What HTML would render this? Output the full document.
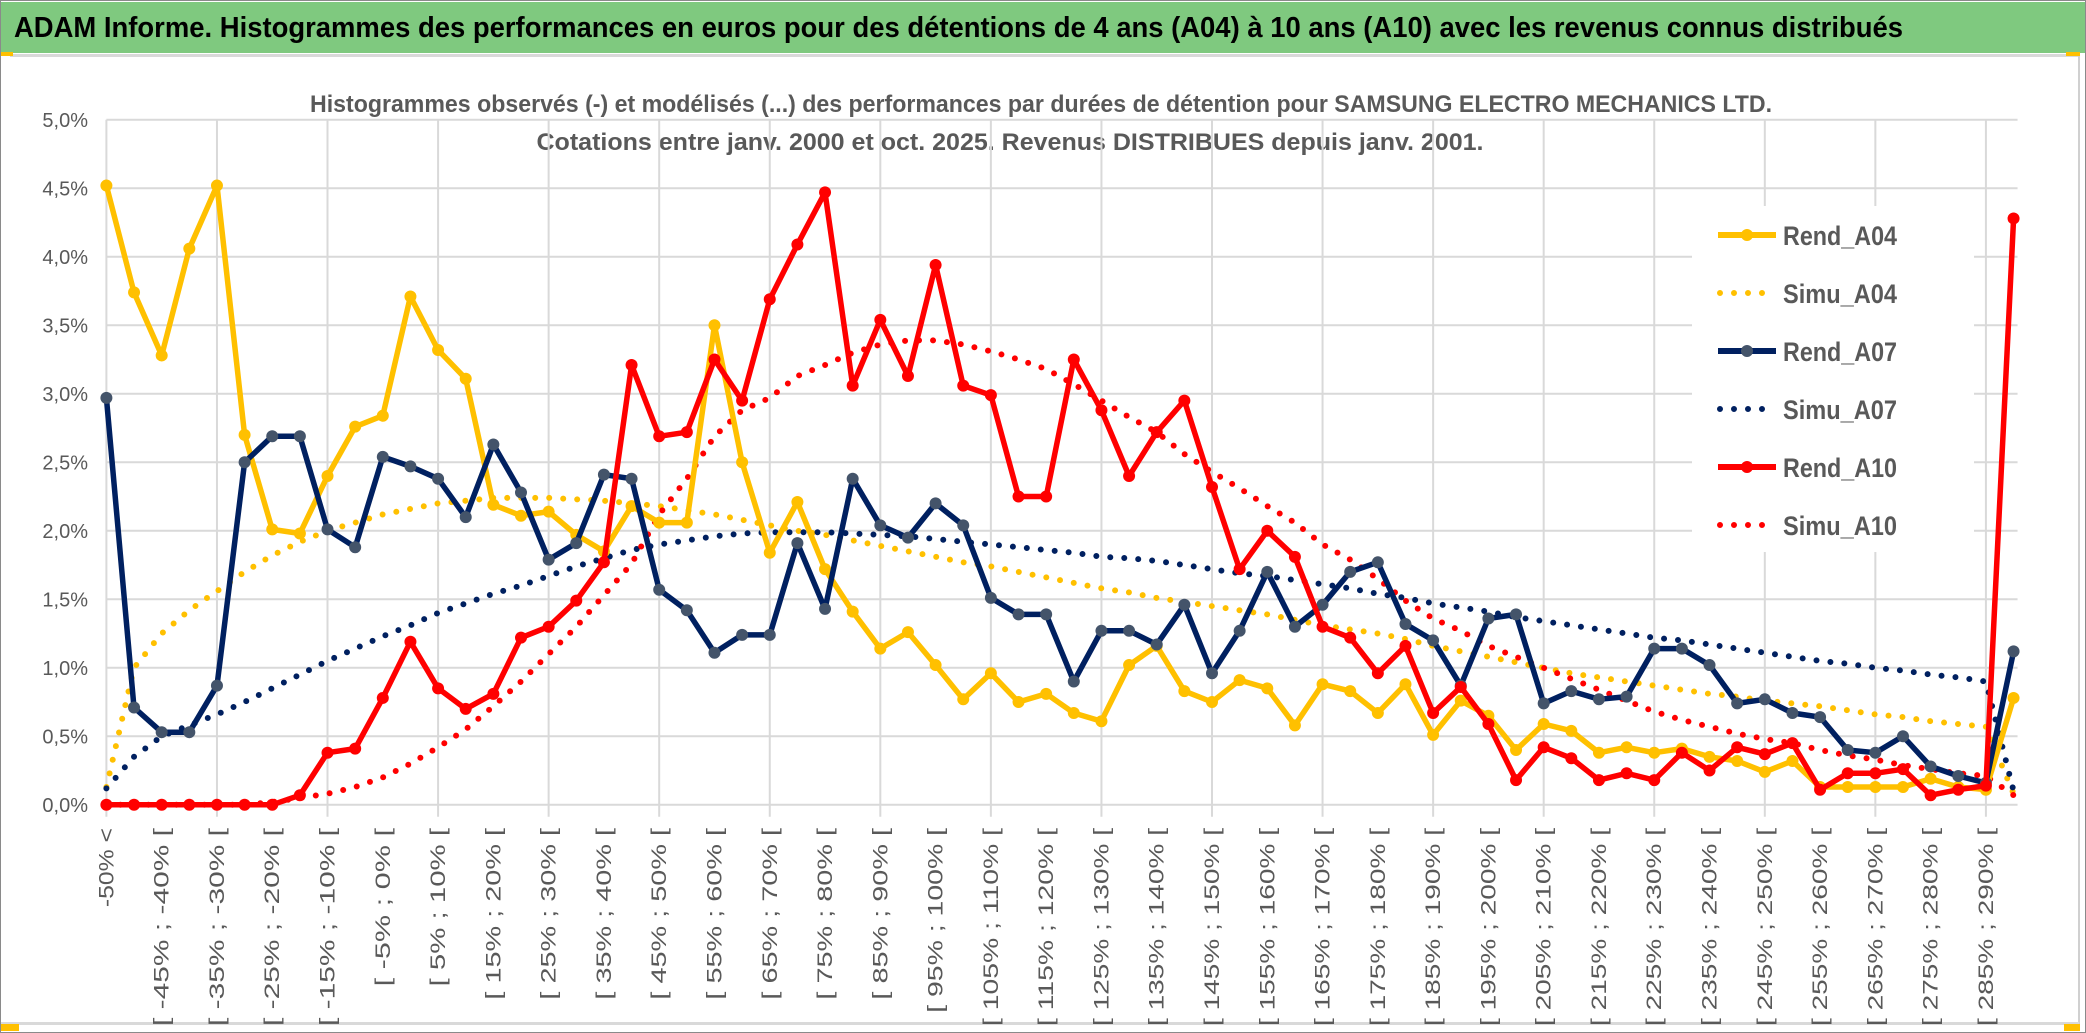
<!DOCTYPE html>
<html><head><meta charset="utf-8">
<style>
html,body{margin:0;padding:0;background:#fff;}
svg{display:block;font-family:"Liberation Sans",sans-serif;}
</style></head>
<body>
<svg id="chart" width="2086" height="1033" viewBox="0 0 2086 1033" xmlns="http://www.w3.org/2000/svg">
<rect x="0" y="0" width="2086" height="1033" fill="#ffffff"/>
<rect x="0.5" y="0.5" width="2085" height="1032" fill="none" stroke="#8a8a8a" stroke-width="1"/>
<rect x="1" y="2" width="2084" height="51" fill="#7fc97f"/>
<text x="14" y="37" font-size="29" font-weight="bold" fill="#000" textLength="1889" lengthAdjust="spacingAndGlyphs">ADAM Informe. Histogrammes des performances en euros pour des détentions de 4 ans (A04) à 10 ans (A10) avec les revenus connus distribués</text>
<rect x="10" y="54" width="2068" height="3" fill="#d9d9d9"/>
<rect x="2078" y="54" width="2" height="972" fill="#d0d0d0"/>
<rect x="1" y="1022" width="2078" height="3" fill="#d9d9d9"/>
<rect x="1" y="52" width="12" height="4" fill="#ffc000"/>
<rect x="2066" y="52" width="14" height="4" fill="#ffc000"/>
<rect x="1" y="1024" width="18" height="7" fill="#ffc000"/>
<rect x="2064" y="1024" width="16" height="7" fill="#ffc000"/>
<text x="1041" y="112" text-anchor="middle" font-size="24" font-weight="bold" fill="#595959" textLength="1462" lengthAdjust="spacingAndGlyphs">Histogrammes observés (-) et modélisés (...) des performances par durées de détention pour SAMSUNG ELECTRO MECHANICS LTD.</text>
<text x="1010" y="150" text-anchor="middle" font-size="24" font-weight="bold" fill="#595959" textLength="947" lengthAdjust="spacingAndGlyphs">Cotations entre janv. 2000 et oct. 2025. Revenus DISTRIBUES depuis janv. 2001.</text>
<g id="grid"></g>
<g id="yaxis"></g>
<g id="xaxis"></g>
<g id="series"></g>
<g id="legend"></g>
</svg>
<script>
const categoryCount = 70;
const yTicks = [0, 0.5, 1.0, 1.5, 2.0, 2.5, 3.0, 3.5, 4.0, 4.5, 5.0];
const yTickLabels = ["0,0%","0,5%","1,0%","1,5%","2,0%","2,5%","3,0%","3,5%","4,0%","4,5%","5,0%"];
const categories = ["-50% <"];
for (let k = 1; k < categoryCount; k++) { const a = -50 + 5*(k-1); categories.push("[ " + a + "% ; " + (a+5) + "% ["); }

const rendA04 = [4.52,3.74,3.28,4.06,4.52,2.70,2.01,1.98,2.40,2.76,2.84,3.71,3.32,3.11,2.19,2.11,2.14,1.97,1.85,2.18,2.06,2.06,3.50,2.50,1.84,2.21,1.72,1.41,1.14,1.26,1.02,0.77,0.96,0.75,0.81,0.67,0.61,1.02,1.16,0.83,0.75,0.91,0.85,0.58,0.88,0.83,0.67,0.88,0.51,0.76,0.65,0.40,0.59,0.54,0.38,0.42,0.38,0.41,0.35,0.32,0.24,0.32,0.13,0.13,0.13,0.13,0.19,0.13,0.11,0.78];
const simuA04 = [0.13,1.00,1.25,1.42,1.56,1.70,1.82,1.92,2.00,2.06,2.12,2.16,2.20,2.22,2.24,2.24,2.24,2.23,2.22,2.20,2.18,2.15,2.12,2.08,2.04,2.00,1.97,1.93,1.89,1.85,1.81,1.77,1.74,1.70,1.66,1.62,1.58,1.55,1.51,1.48,1.45,1.42,1.39,1.35,1.31,1.28,1.25,1.21,1.16,1.12,1.08,1.04,1.00,0.96,0.93,0.90,0.87,0.84,0.81,0.79,0.76,0.74,0.72,0.69,0.66,0.64,0.61,0.59,0.57,0.08];
const rendA07 = [2.97,0.71,0.53,0.53,0.87,2.50,2.69,2.69,2.01,1.88,2.54,2.47,2.38,2.10,2.63,2.28,1.79,1.91,2.41,2.38,1.57,1.42,1.11,1.24,1.24,1.91,1.43,2.38,2.04,1.95,2.20,2.04,1.51,1.39,1.39,0.90,1.27,1.27,1.17,1.46,0.96,1.27,1.70,1.30,1.46,1.70,1.77,1.32,1.20,0.87,1.36,1.39,0.74,0.83,0.77,0.79,1.14,1.14,1.02,0.74,0.77,0.67,0.64,0.40,0.38,0.50,0.28,0.21,0.16,1.12];
const simuA07 = [0.12,0.35,0.50,0.58,0.66,0.75,0.85,0.95,1.05,1.14,1.23,1.31,1.40,1.47,1.54,1.60,1.67,1.74,1.80,1.86,1.90,1.93,1.96,1.98,1.99,1.99,1.99,1.98,1.97,1.96,1.94,1.92,1.90,1.88,1.86,1.84,1.81,1.80,1.78,1.75,1.72,1.69,1.67,1.64,1.61,1.58,1.54,1.51,1.47,1.44,1.41,1.37,1.34,1.31,1.28,1.25,1.22,1.20,1.17,1.14,1.11,1.08,1.05,1.03,1.00,0.98,0.95,0.93,0.90,0.10];
const rendA10 = [0,0,0,0,0,0,0,0.07,0.38,0.41,0.78,1.19,0.85,0.70,0.81,1.22,1.30,1.49,1.77,3.21,2.69,2.72,3.25,2.95,3.69,4.09,4.47,3.06,3.54,3.13,3.94,3.06,2.99,2.25,2.25,3.25,2.88,2.40,2.72,2.95,2.32,1.72,2.00,1.81,1.30,1.22,0.96,1.16,0.67,0.86,0.59,0.18,0.42,0.34,0.18,0.23,0.18,0.38,0.25,0.42,0.37,0.45,0.11,0.23,0.23,0.26,0.07,0.11,0.14,4.28];
const simuA10 = [0,0,0,0,0,0,0.02,0.05,0.08,0.13,0.20,0.30,0.42,0.55,0.72,0.90,1.10,1.30,1.53,1.76,2.12,2.38,2.69,2.88,2.97,3.13,3.21,3.30,3.36,3.39,3.39,3.36,3.31,3.25,3.18,3.07,2.95,2.83,2.72,2.56,2.43,2.31,2.18,2.06,1.90,1.79,1.65,1.49,1.36,1.27,1.16,1.08,1.00,0.92,0.84,0.76,0.68,0.62,0.57,0.52,0.48,0.45,0.40,0.36,0.33,0.29,0.26,0.23,0.21,0.07];

const seriesNames = ["Rend_A04","Simu_A04","Rend_A07","Simu_A07","Rend_A10","Simu_A10"];
const NS = "http://www.w3.org/2000/svg";
const X0 = 106.4, XSTEP = 27.64, Y0 = 804.8, YPER = 137.0;
function xs(k){ return X0 + XSTEP*k; }
function ys(v){ return Y0 - YPER*v; }
function mk(tag, attrs, parent){ const e = document.createElementNS(NS, tag); for (const a in attrs) e.setAttribute(a, attrs[a]); parent.appendChild(e); return e; }

const grid = document.getElementById('grid');
const xEnd = xs(categoryCount-1) + 4;
yTicks.forEach((t,i) => {
  const l = mk('line', {x1:X0, x2:xEnd, y1:ys(t), y2:ys(t), stroke:'#d9d9d9', 'stroke-width':2}, grid);
  
  
});
for (let k = 0; k < categoryCount; k += 4) {
  const l = mk('line', {x1:xs(k), x2:xs(k), y1:ys(5), y2:Y0+12, stroke:'#d9d9d9', 'stroke-width':2}, grid);
  
  
}
const yaxis = document.getElementById('yaxis');
yTicks.forEach((t,i) => {
  const tx = mk('text', {x:88, y:ys(t)+7, 'text-anchor':'end', 'font-size':20, fill:'#595959'}, yaxis);
  tx.textContent = yTickLabels[i];
  
  
});
const xaxis = document.getElementById('xaxis');
for (let k = 0; k < categoryCount; k += 2) {
  const s = categories[k];
  const tx = mk('text', {transform:'translate(' + xs(k) + ',828) rotate(-90)', x:0, y:7, 'text-anchor':'end', 'font-size':21, fill:'#595959', textLength: (s.length*13.2).toFixed(1), lengthAdjust:'spacingAndGlyphs'}, xaxis);
  tx.textContent = s;
  
  
}

const sg = document.getElementById('series');
function pathOf(arr){ return arr.map((v,k)=> (k?'L':'M') + xs(k).toFixed(1) + ',' + ys(v).toFixed(1)).join(' '); }
function dotted(arr, color, name){
  const p = mk('path', {d:pathOf(arr), fill:'none', stroke:color, 'stroke-width':6, 'stroke-linecap':'round', 'stroke-dasharray':'0 14'}, sg);
  
  
}
function solid(arr, color, markerColor, name){
  const g = mk('g', {}, sg);
  
  
  mk('path', {d:pathOf(arr), fill:'none', stroke:color, 'stroke-width':5.5, 'stroke-linejoin':'round'}, g);
  arr.forEach((v,k) => {
    const c = mk('circle', {cx:xs(k), cy:ys(v), r:6, fill:markerColor}, g);
    
    
  });
}
dotted(simuA04, '#ffc000', 'simu-a04-line');
dotted(simuA07, '#002060', 'simu-a07-line');
dotted(simuA10, '#ff0000', 'simu-a10-line');
solid(rendA04, '#ffc000', '#ffc000', 'rend-a04-line');
solid(rendA07, '#002060', '#44546a', 'rend-a07-line');
solid(rendA10, '#ff0000', '#ff0000', 'rend-a10-line');

const lg = document.getElementById('legend');
const lbg = mk('rect', {x:1692, y:206, width:282, height:346, fill:'#ffffff'}, lg);


const lcolors = ['#ffc000','#ffc000','#002060','#002060','#ff0000','#ff0000'];
const lmark = ['#ffc000',null,'#44546a',null,'#ff0000',null];
seriesNames.forEach((n,i) => {
  const y = 235 + 58*i;
  const g = mk('g', {}, lg);
  
  
  if (lmark[i]) {
    mk('line', {x1:1718, x2:1776, y1:y, y2:y, stroke:lcolors[i], 'stroke-width':6}, g);
    mk('circle', {cx:1747, cy:y, r:6, fill:lmark[i]}, g);
  } else {
    mk('line', {x1:1720, x2:1776, y1:y, y2:y, stroke:lcolors[i], 'stroke-width':6, 'stroke-linecap':'round', 'stroke-dasharray':'0 14'}, g);
  }
  const t = mk('text', {x:1783, y:y+10, 'font-size':27, 'font-weight':'bold', fill:'#595959', textLength:114, lengthAdjust:'spacingAndGlyphs'}, g);
  t.textContent = n;
});
</script>
</body></html>
